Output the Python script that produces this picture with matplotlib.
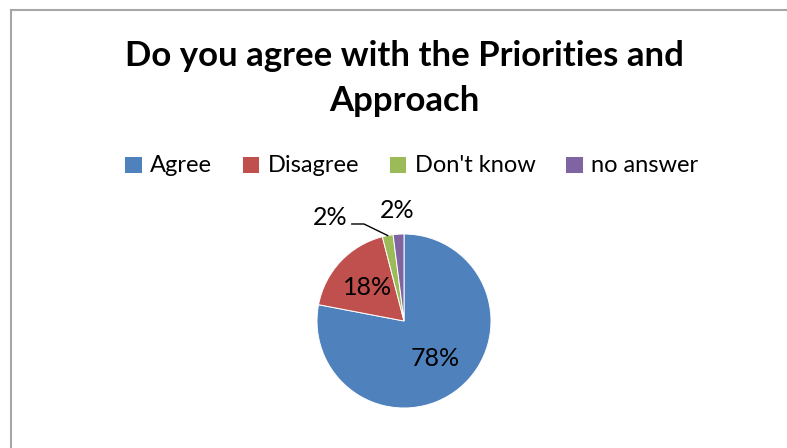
import matplotlib.pyplot as plt
import numpy as np
from matplotlib.lines import Line2D

categories = ["Agree", "Disagree", "Don't know", "no answer"]
shares = [78, 18, 2, 2]
colors = ["#4F81BD", "#C0504D", "#9BBB59", "#8064A2"]

plt.rcParams['font.family'] = ['Lato', 'DejaVu Sans']

W, H = 787, 448
fig = plt.figure(figsize=(W / 100, H / 100), dpi=100)

# grey chart frame (only left and top edges fall inside the image)
fig.add_artist(Line2D([10.5 / W, 10.5 / W], [0, 1 - 10.5 / H],
                      transform=fig.transFigure, color="#a6a6a6", lw=1.5))
fig.add_artist(Line2D([10.5 / W, 1], [1 - 10.5 / H, 1 - 10.5 / H],
                      transform=fig.transFigure, color="#a6a6a6", lw=1.5))

fig.text(404 / W, 1 - 56 / H, "Do you agree with the Priorities and",
         ha="center", va="center", fontsize=25, fontweight="bold")
fig.text(404 / W, 1 - 101 / H, "Approach",
         ha="center", va="center", fontsize=25, fontweight="bold")

# pie axes: centre at (404, 321) px, radius 87 px
cx, cy, r = 404, 321, 87
ax = fig.add_axes([(cx - r) / W, (H - cy - r) / H, 2 * r / W, 2 * r / H])
wedges, _ = ax.pie(shares, colors=colors, startangle=90, counterclock=False,
                   wedgeprops=dict(edgecolor="white", linewidth=0.7))
ax.set_xlim(-1, 1)
ax.set_ylim(-1, 1)

# data labels
for i, w in enumerate(wedges):
    mid = np.deg2rad((w.theta1 + w.theta2) / 2)
    txt = f"{shares[i]}%"
    if i < 2:
        ax.text(0.57 * np.cos(mid), 0.56 * np.sin(mid), txt, ha="center",
                va="center", fontsize=18)
    elif i == 3:
        ax.text(1.26 * np.cos(mid), 1.27 * np.sin(mid), txt, ha="center",
                va="center", fontsize=18)
    else:
        ex, ey = np.cos(mid), np.sin(mid)
        ax.plot([ex, -0.46, -0.60], [ey, 1.115, 1.115], color="black",
                lw=1.0, clip_on=False)
        ax.text(-0.655, 1.195, txt, ha="right", va="center", fontsize=18)

fig.legend(wedges, categories, loc="center", bbox_to_anchor=(411 / W, 1 - 166 / H),
           ncol=4, frameon=False, fontsize=17, handlelength=0.75,
           handleheight=0.75, handletextpad=0.35, columnspacing=1.25)

fig.savefig("out.png", dpi=100)
